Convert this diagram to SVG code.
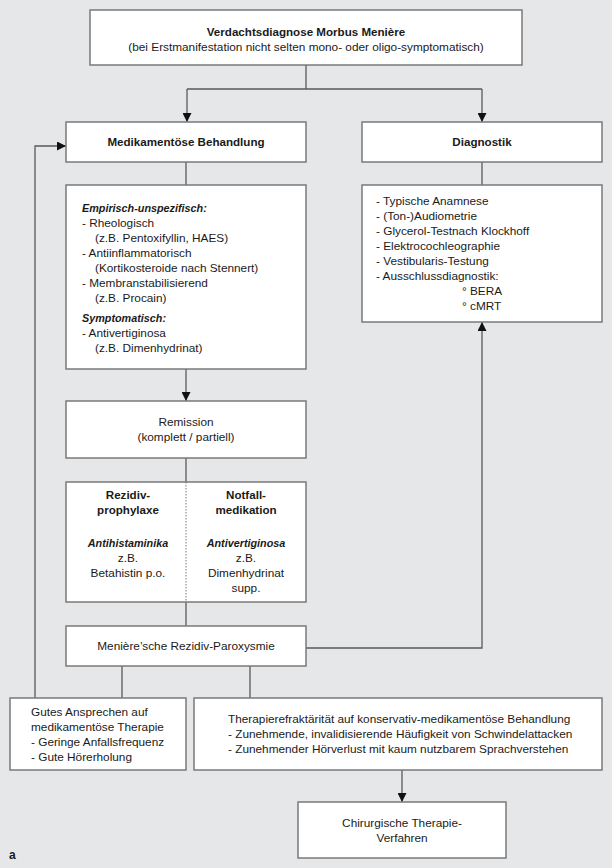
<svg xmlns="http://www.w3.org/2000/svg" width="612" height="868" viewBox="0 0 612 868">
<defs>
<marker id="ah" viewBox="0 0 10 10" refX="10" refY="5" markerWidth="9" markerHeight="9" markerUnits="userSpaceOnUse" orient="auto">
<path d="M0,0 L10,5 L0,10 z" fill="#111"/>
</marker>
<style>
.box{fill:#fff;stroke:#7a7a7a;stroke-width:1.5}
.con{fill:none;stroke:#5a5a5a;stroke-width:1.3}
text{font-family:"Liberation Sans",Arial,sans-serif;font-size:11.8px;fill:#1a1a1a}
.c{text-anchor:middle}
.b{font-weight:bold;font-size:11.6px}
.bi{font-weight:bold;font-style:italic;font-size:10.8px}
</style>
</defs>
<rect width="612" height="868" fill="#e6e7e9"/>
<g id="connectors">
<path class="con" d="M306,65 V89 M187,89 H482"/>
<path class="con" d="M187,89 V122" marker-end="url(#ah)"/>
<path class="con" d="M482,89 V122" marker-end="url(#ah)"/>
<path class="con" d="M186,162 V185"/>
<path class="con" d="M186,369 V401" marker-end="url(#ah)"/>
<path class="con" d="M482,162 V185"/>
<path class="con" d="M186,458 V482"/>
<path class="con" d="M186,602 V626"/>
<path class="con" d="M306,648 H482 V322" marker-end="url(#ah)"/>
<path class="con" d="M122,666 V698 M250,666 V698"/>
<path class="con" d="M35,698 V146 H66" marker-end="url(#ah)"/>
<path class="con" d="M402,770 V802" marker-end="url(#ah)"/>
</g>
<g id="n_verdacht">
<rect class="box" x="90" y="10" width="432" height="55"/>
<text class="c b" x="306" y="36">Verdachtsdiagnose Morbus Menière</text>
<text class="c" x="306" y="51">(bei Erstmanifestation nicht selten mono- oder oligo-symptomatisch)</text>
</g>
<g id="n_medik">
<rect class="box" x="66" y="122" width="240" height="40"/>
<text class="c b" x="186" y="146">Medikamentöse Behandlung</text>
</g>
<g id="n_diag">
<rect class="box" x="362" y="122" width="240" height="40"/>
<text class="c b" x="482" y="146">Diagnostik</text>
</g>
<g id="n_empir">
<rect class="box" x="66" y="185" width="240" height="184"/>
<text class="bi" x="82" y="212">Empirisch-unspezifisch:</text>
<text x="82" y="227">- Rheologisch</text>
<text x="95" y="242">(z.B. Pentoxifyllin, HAES)</text>
<text x="82" y="257">- Antiinflammatorisch</text>
<text x="95" y="272">(Kortikosteroide nach Stennert)</text>
<text x="82" y="287">- Membranstabilisierend</text>
<text x="95" y="302">(z.B. Procain)</text>
<text class="bi" x="82" y="322">Symptomatisch:</text>
<text x="82" y="337">- Antivertiginosa</text>
<text x="95" y="352">(z.B. Dimenhydrinat)</text>
</g>
<g id="n_diaglist">
<rect class="box" x="362" y="185" width="240" height="137"/>
<text x="376" y="205">- Typische Anamnese</text>
<text x="376" y="220">- (Ton-)Audiometrie</text>
<text x="376" y="235">- Glycerol-Testnach Klockhoff</text>
<text x="376" y="250">- Elektrocochleographie</text>
<text x="376" y="265">- Vestibularis-Testung</text>
<text x="376" y="280">- Ausschlussdiagnostik:</text>
<text x="462" y="295">° BERA</text>
<text x="462" y="310">° cMRT</text>
</g>
<g id="n_remission">
<rect class="box" x="66" y="401" width="240" height="57"/>
<text class="c" x="186" y="426">Remission</text>
<text class="c" x="186" y="441">(komplett / partiell)</text>
</g>
<g id="n_rezidiv">
<rect class="box" x="66" y="482" width="240" height="120"/>
<line x1="186" y1="482" x2="186" y2="602" stroke="#7a7a7a" stroke-width="1" stroke-dasharray="1.5,1.5"/>
<text class="c b" x="128" y="499">Rezidiv-</text>
<text class="c b" x="128" y="514">prophylaxe</text>
<text class="c bi" x="128" y="547">Antihistaminika</text>
<text class="c" x="128" y="562">z.B.</text>
<text class="c" x="128" y="577">Betahistin p.o.</text>
<text class="c b" x="246" y="499">Notfall-</text>
<text class="c b" x="246" y="514">medikation</text>
<text class="c bi" x="246" y="547">Antivertiginosa</text>
<text class="c" x="246" y="562">z.B.</text>
<text class="c" x="246" y="577">Dimenhydrinat</text>
<text class="c" x="246" y="592">supp.</text>
</g>
<g id="n_meniere">
<rect class="box" x="66" y="626" width="240" height="40"/>
<text class="c" x="186" y="650">Menière’sche Rezidiv-Paroxysmie</text>
</g>
<g id="n_gutes">
<rect class="box" x="10" y="698" width="176" height="72"/>
<text x="31" y="716">Gutes Ansprechen auf</text>
<text x="31" y="731">medikamentöse Therapie</text>
<text x="31" y="746">- Geringe Anfallsfrequenz</text>
<text x="31" y="761">- Gute Hörerholung</text>
</g>
<g id="n_therapie">
<rect class="box" x="194" y="698" width="408" height="72"/>
<text x="228" y="723">Therapierefraktärität auf konservativ-medikamentöse Behandlung</text>
<text x="228" y="738">- Zunehmende, invalidisierende Häufigkeit von Schwindelattacken</text>
<text x="228" y="753">- Zunehmender Hörverlust mit kaum nutzbarem Sprachverstehen</text>
</g>
<g id="n_chir">
<rect class="box" x="298" y="802" width="208" height="56"/>
<text class="c" x="402" y="827">Chirurgische Therapie-</text>
<text class="c" x="402" y="842">Verfahren</text>
</g>
<text class="b" x="9" y="859" style="font-size:12px">a</text>
</svg>
